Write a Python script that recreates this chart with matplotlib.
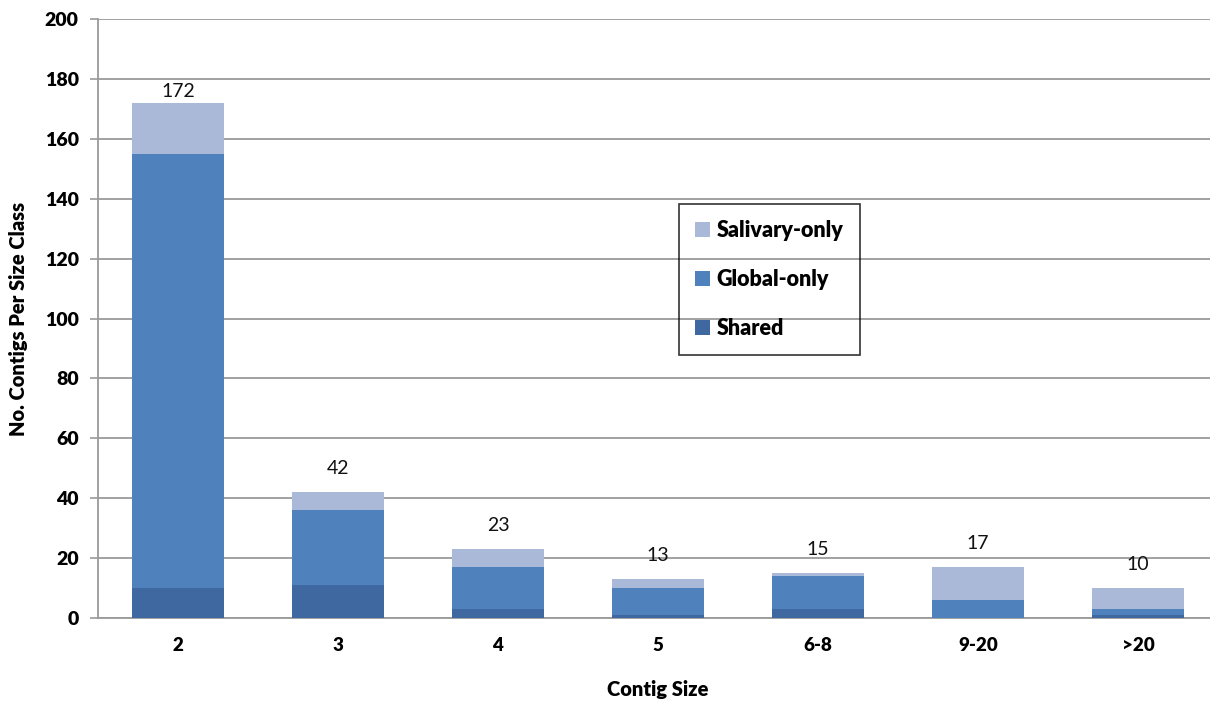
import matplotlib
matplotlib.use("Agg")
import matplotlib.pyplot as plt
import numpy as np

categories = ["2", "3", "4", "5", "6-8", "9-20", ">20"]
shared = [10, 11, 3, 1, 3, 0, 1]
global_only = [145, 25, 14, 9, 11, 6, 2]
salivary_only = [17, 6, 6, 3, 1, 11, 7]
totals = [172, 42, 23, 13, 15, 17, 10]

yticks = [0, 20, 40, 60, 80, 100, 120, 140, 160, 180, 200]

c_shared = "#4068A0"
c_global = "#4F81BD"
c_saliv = "#A9B9D7"
grid_c = "#9A9A9A"

plt.rcParams["font.family"] = ["Lato", "DejaVu Sans"]

fig = plt.figure(figsize=(12.10, 7.01), dpi=100)
ax = fig.add_axes([98 / 1210, (701 - 618) / 701, 1120 / 1210, 599 / 701])

x = np.arange(len(categories))
w = 0.57
b1 = ax.bar(x, shared, w, color=c_shared, label="Shared", zorder=3)
b2 = ax.bar(x, global_only, w, bottom=shared, color=c_global, label="Global-only", zorder=3)
bottom2 = np.array(shared) + np.array(global_only)
b3 = ax.bar(x, salivary_only, w, bottom=bottom2, color=c_saliv, label="Salivary-only", zorder=3)

for xi, t in zip(x, totals):
    off = 2 if t > 150 else 11
    ax.annotate(str(t), (xi, t), xytext=(0, off), textcoords="offset points",
                ha="center", va="bottom", fontsize=14, color="#111111", zorder=4)

ax.set_xlim(-0.5, len(categories) - 0.5)
ax.set_ylim(0, 200)
ax.set_yticks(yticks)
ax.set_xticks(x)
ax.set_xticklabels(categories, fontsize=13.5, fontweight="heavy")
ax.tick_params(axis="x", length=0, pad=14)
ax.tick_params(axis="y", length=6, width=1.2, color=grid_c, labelsize=14, pad=8)
for lab in ax.get_yticklabels():
    lab.set_fontweight("heavy")

ax.yaxis.grid(True, color=grid_c, linewidth=1.3, zorder=0)
ax.set_axisbelow(True)
for s in ["top", "right"]:
    ax.spines[s].set_visible(False)
ax.spines["left"].set_color(grid_c)
ax.spines["left"].set_linewidth(1.3)
ax.spines["bottom"].set_color(grid_c)
ax.spines["bottom"].set_linewidth(1.3)

ax.set_ylabel("No. Contigs Per Size Class", fontsize=14.5, fontweight="heavy", labelpad=12)
fig.text(658 / 1210, 2 / 701, "Contig Size", ha="center", va="bottom",
         fontsize=14.5, fontweight="heavy")

leg = fig.legend(handles=[b3, b2, b1], labels=["Salivary-only", "Global-only", "Shared"],
                 loc="upper left", bbox_to_anchor=(679 / 1210, 1 - 204 / 701),
                 frameon=True, fancybox=False, edgecolor="black",
                 handlelength=0.7, handleheight=0.7, handletextpad=0.3,
                 labelspacing=1.3, borderpad=0.75, borderaxespad=0,
                 prop={"family": ["Lato", "DejaVu Sans"], "weight": "heavy", "size": 15.5})
frame = leg.get_frame()
frame.set_facecolor("none")
frame.set_linewidth(1.2)
frame.set_edgecolor("black")

fig.savefig("out.png", dpi=100)
